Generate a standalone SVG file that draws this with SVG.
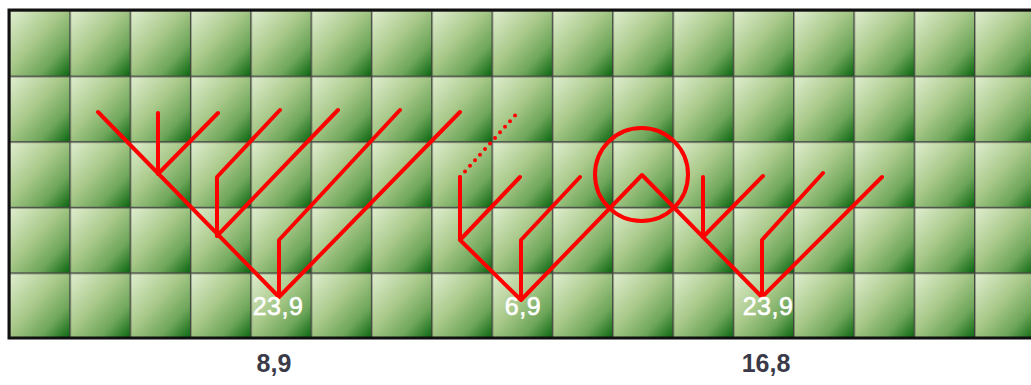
<svg xmlns="http://www.w3.org/2000/svg" width="1031" height="385" viewBox="0 0 1031 385">
<style>
.r{fill:none;stroke:#f00;stroke-width:4;stroke-linecap:round;stroke-linejoin:round}
.d{fill:none;stroke:#f00;stroke-width:4;stroke-linecap:round;stroke-dasharray:0 7.5}
.w{font-family:"Liberation Sans",Arial,sans-serif;font-size:25px;fill:#fff;stroke:#fff;stroke-width:0.6;text-anchor:middle;letter-spacing:0.5px}
.b{font-family:"Liberation Sans",Arial,sans-serif;font-weight:bold;font-size:25px;fill:#3a3a48;text-anchor:middle}
</style>
<defs>
<linearGradient id="g" x1="0" y1="0" x2="1" y2="1">
<stop offset="0" stop-color="#e2efd2"/>
<stop offset="0.45" stop-color="#a9c98a"/>
<stop offset="0.75" stop-color="#6ea65a"/>
<stop offset="1" stop-color="#0c6812"/>
</linearGradient>
<pattern id="t" patternUnits="userSpaceOnUse" x="9" y="10" width="60.3125" height="65.6">
<rect x="0" y="0" width="60.3125" height="65.6" fill="url(#g)"/>
<path d="M0 0V65.6M0 0H60.3125" stroke="#2a2a2a" stroke-width="2.8" fill="none" opacity="0.85"/>
</pattern>
</defs>
<rect width="1031" height="385" fill="#fff"/>
<g id="board">
<rect x="9" y="10" width="1030" height="328" fill="url(#t)"/>
<rect x="9" y="10" width="1030" height="328" fill="none" stroke="#111" stroke-width="3"/>
</g>
<g id="connectors">
<g id="tree1">
<path class="r" d="M98 112L279 297M158 113V174M158 174L218 113M217 236V177L280 110M217 236L338 110M279 297V240L400 110M279 297L460 112"/>
</g>
<g id="tree2">
<path class="r" d="M521 300L460 240V177M460 240L520 177M521 300V240L580 177M521 300L642 175L762 297"/>
<path class="d" d="M460 177L520 110"/>
</g>
<g id="tree3">
<path class="r" d="M703 177V237L763 176M762 297V240L823 173M762 297L882 177"/>
</g>
<circle cx="641.5" cy="174.5" r="46.5" class="r"/>
</g>
<g id="labels">
<text class="w" x="278" y="315">23,9</text>
<text class="w" x="523" y="315">6,9</text>
<text class="w" x="768" y="315">23,9</text>
<text class="b" x="274" y="372">8,9</text>
<text class="b" x="766" y="372">16,8</text>
</g>
</svg>
